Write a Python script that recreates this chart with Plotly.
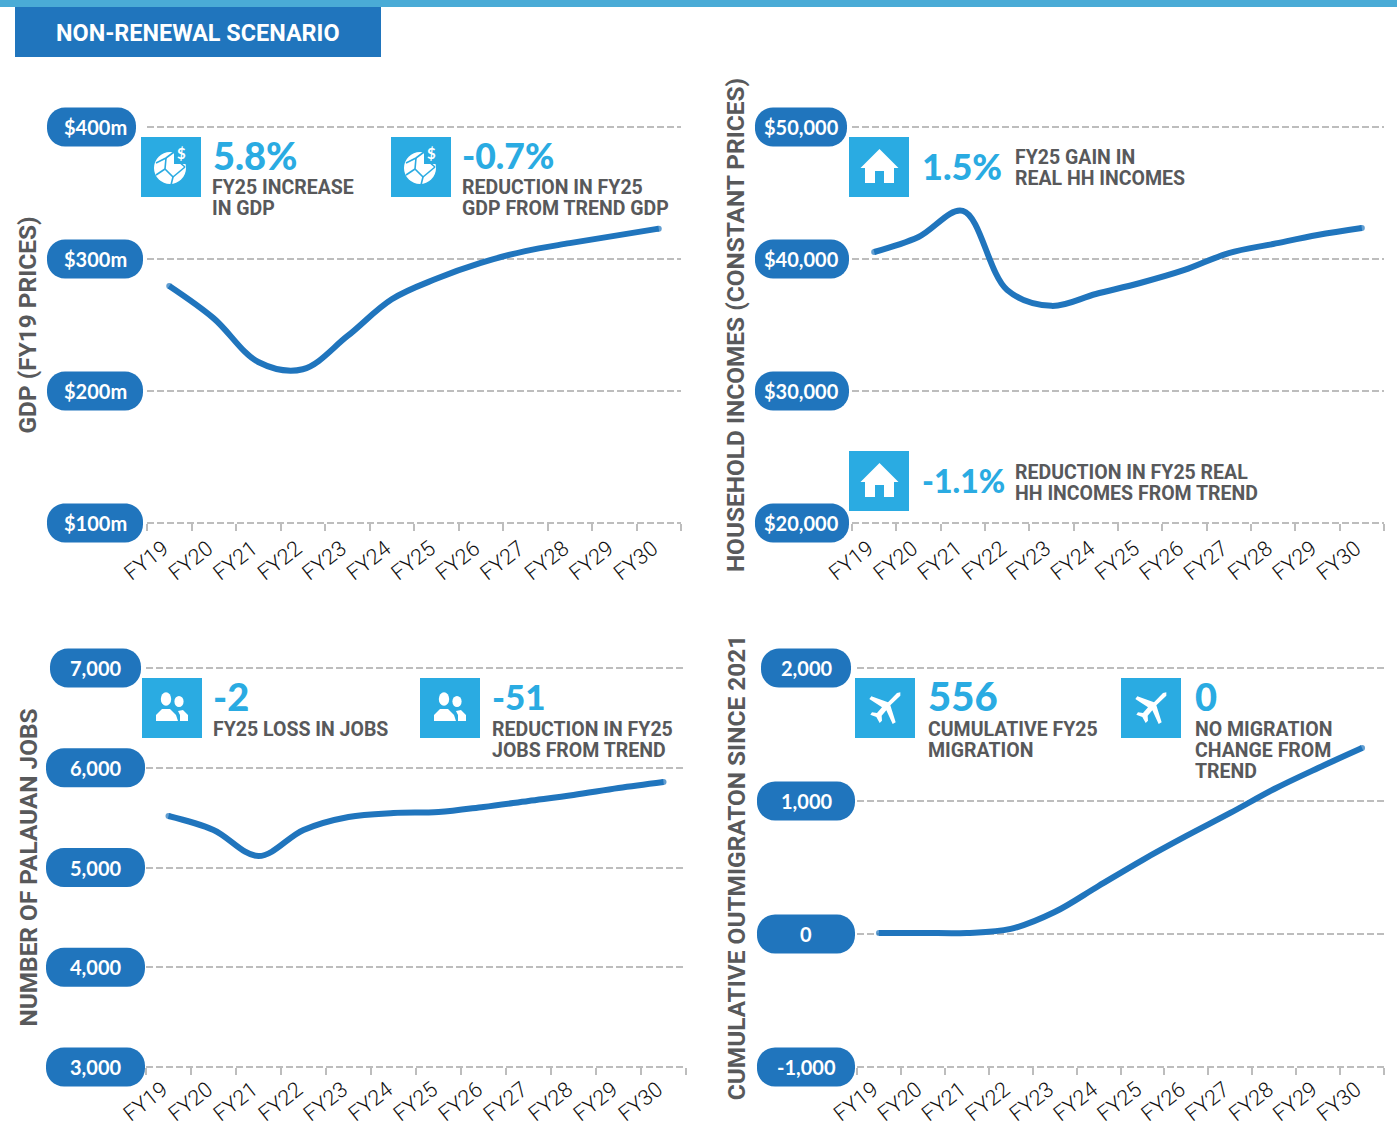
import plotly.graph_objects as go

W, H = 1397, 1125
BLUE = "#2075bd"
SKY = "#2aabe2"
GRAY = "#58595b"
GRID = "#bdbdbd"
COND = "Roboto"
ROUND = "Lato"

years = ["FY19", "FY20", "FY21", "FY22", "FY23", "FY24", "FY25", "FY26", "FY27", "FY28", "FY29", "FY30"]
gdp = [279.5, 255, 222, 216.5, 241.5, 269.5, 285, 297, 306, 312, 317.5, 323]
incomes = [40530, 41670, 43640, 37650, 36450, 37350, 38180, 39170, 40450, 41140, 41820, 42350]
jobs = [5516, 5376, 5115, 5376, 5506, 5546, 5556, 5607, 5667, 5727, 5797, 5857]
migration = [8, 8, 8, 38, 165, 361, 556, 737, 910, 1090, 1248, 1398]

gdp_ticks = [100, 200, 300, 400]
gdp_labels = ["$100m", "$200m", "$300m", "$400m"]
income_ticks = [20000, 30000, 40000, 50000]
income_labels = ["$20,000", "$30,000", "$40,000", "$50,000"]
jobs_ticks = [3000, 4000, 5000, 6000, 7000]
jobs_labels = ["3,000", "4,000", "5,000", "6,000", "7,000"]
migration_ticks = [-1000, 0, 1000, 2000]
migration_labels = ["-1,000", "0", "1,000", "2,000"]

panels = [
    dict(vals=gdp, ticks=gdp_ticks, labels=gdp_labels, title="GDP (FY19 PRICES)", lab_gap=8,
         x0=147, x1=681, y0=127, y1=523, standoff=102, pill=(47, 143), center=95, short={400: (47, 136)}),
    dict(vals=incomes, ticks=income_ticks, labels=income_labels, title="HOUSEHOLD INCOMES (CONSTANT PRICES)", lab_gap=8,
         x0=852, x1=1384, y0=127, y1=523, standoff=99, pill=(755, 849), center=801, short={50000: (755, 847)}),
    dict(vals=jobs, ticks=jobs_ticks, labels=jobs_labels, title="NUMBER OF PALAUAN JOBS", lab_gap=5,
         x0=146, x1=686, y0=668, y1=1067, standoff=100, pill=(46, 145), center=95, short={7000: (50, 141)}),
    dict(vals=migration, ticks=migration_ticks, labels=migration_labels, title="CUMULATIVE OUTMIGRATON SINCE 2021", lab_gap=5,
         x0=857, x1=1384, y0=668, y1=1067, standoff=103, pill=(757, 855), center=806, short={2000: (761, 851)}),
]


def px(x):
    return x / W


def py(y):
    return 1 - y / H


def poly(points):
    return "M " + " L ".join(f"{px(x):.5f} {py(y):.5f}" for x, y in points) + " Z"


def rect_shape(x0, y0, x1, y1, color):
    return dict(type="rect", xref="paper", yref="paper", x0=px(x0), x1=px(x1), y0=py(y0), y1=py(y1),
                fillcolor=color, line=dict(width=0), layer="above")


def path_shape(d, color, line=0, line_color=None):
    return dict(type="path", xref="paper", yref="paper", path=d, fillcolor=color,
                line=dict(width=line, color=line_color or color), layer="above")


def ellipse(cx, cy, rx, ry, color="white"):
    return dict(type="circle", xref="paper", yref="paper", x0=px(cx - rx), x1=px(cx + rx),
                y0=py(cy - ry), y1=py(cy + ry), fillcolor=color, line=dict(width=0), layer="above")


def pill_shape(x0, x1, yc, hh=19.5, r=18):
    t, b = yc - hh, yc + hh
    k = r * 0.45
    c = lambda a, b_: f"{px(a):.5f} {py(b_):.5f}"
    d = (f"M {c(x0 + r, t)} L {c(x1 - r, t)} C {c(x1 - k, t)} {c(x1, t + k)} {c(x1, t + r)} "
         f"L {c(x1, b - r)} C {c(x1, b - k)} {c(x1 - k, b)} {c(x1 - r, b)} "
         f"L {c(x0 + r, b)} C {c(x0 + k, b)} {c(x0, b - k)} {c(x0, b - r)} "
         f"L {c(x0, t + r)} C {c(x0, t + k)} {c(x0 + k, t)} {c(x0 + r, t)} Z")
    return path_shape(d, BLUE)


def icon_box(x, y, kind):
    out = [rect_shape(x, y, x + 60, y + 60, SKY)]
    P = lambda pts: [(x + a, y + b) for a, b in pts]
    if kind == "house":
        out.append(path_shape(poly(P([(30.5, 12), (49.5, 31), (45, 31), (45, 46), (35, 46), (35, 34),
                                      (26, 34), (26, 46), (16, 46), (16, 31), (11.5, 31)])), "white"))
    elif kind == "plane":
        pts = [(180, 98), (170, 100), (143, 128), (93, 110), (87, 118), (125, 143), (110, 160), (95, 158),
               (90, 165), (108, 172), (118, 190), (125, 183), (124, 168), (138, 152), (157, 193), (166, 188),
               (150, 137), (180, 108)]
        out.append(path_shape(poly(P([((a - 44) / 3, (b - 55) / 3) for a, b in pts])), "white"))
    elif kind == "people":
        out.append(ellipse(x + 37, y + 23.5, 4.6, 5.5))
        out.append(path_shape(poly(P([(36, 33), (41, 32), (46, 37), (46, 43), (38, 43), (38, 37)])), "white"))
        out.append(ellipse(x + 24, y + 21, 5.2, 6.8))
        out.append(path_shape(poly(P([(14, 43), (14, 37), (20, 31), (28, 31), (34, 37), (36, 43)])), "white"))
    elif kind == "globe":
        out.append(ellipse(x + 29, y + 31, 16, 16))
        for seg in ([(15, 26), (25, 21), (33, 15)], [(25, 21), (24, 32), (32, 40), (30, 48)],
                    [(24, 32), (15, 38)], [(32, 40), (44, 30)], [(33, 15), (37, 24), (44, 30)]):
            d = "M " + " L ".join(f"{px(a):.5f} {py(b):.5f}" for a, b in P(seg))
            out.append(dict(type="path", xref="paper", yref="paper", path=d,
                            line=dict(width=1.6, color=SKY), layer="above"))
        out.append(rect_shape(x + 33, y + 11, x + 47, y + 27, SKY))
    return out


shapes = [rect_shape(0, 0, W, 7, "#4aabd6"), rect_shape(15, 7, 381, 57, BLUE)]
annotations = []


def text(x, y, s, size, color=GRAY, family=COND, weight=700, xanchor="left"):
    annotations.append(dict(xref="paper", yref="paper", x=px(x), y=py(y), text=s, showarrow=False,
                            xanchor=xanchor, yanchor="middle", align="left",
                            font=dict(size=size, color=color, family=family, weight=weight)))


fig = go.Figure()
layout = {}
PAD = 2.0
for i, p in enumerate(panels):
    n = "" if i == 0 else str(i + 1)
    lo, hi = min(p["ticks"]), max(p["ticks"])
    h = p["y1"] - p["y0"]
    per_px = (hi - lo) / h
    sizes = [6] + [0] * (len(years) - 2) + [6]
    fig.add_trace(go.Scatter(x=years, y=p["vals"], xaxis=f"x{n}", yaxis=f"y{n}", mode="lines+markers",
                             line=dict(color=BLUE, width=6, shape="spline", smoothing=1.0),
                             marker=dict(size=sizes, color=BLUE, line=dict(width=0)),
                             showlegend=False, cliponaxis=False))
    layout[f"xaxis{n}"] = dict(domain=[px(p["x0"]), px(p["x1"])], anchor="free", position=py(p["y1"]),
                               type="category", automargin=False,
                               categoryorder="array", categoryarray=years, range=[-0.5, 11.5],
                               tickson="boundaries", ticks="outside", ticklen=7, tickwidth=2, tickcolor=GRID,
                               tickangle=-38, showgrid=False, zeroline=False, showline=False,
                               ticklabelstandoff=p["lab_gap"], ticklabelshift=-6,
                               tickfont=dict(family=COND, size=21.5, color="#111111", weight=300))
    layout[f"yaxis{n}"] = dict(domain=[py(p["y1"] + PAD), py(p["y0"] - PAD)], anchor=f"x{n}",
                               range=[lo - PAD * per_px, hi + PAD * per_px], automargin=False,
                               tickvals=p["ticks"], showticklabels=False, ticks="", zeroline=False,
                               showgrid=True, gridcolor=GRID, gridwidth=2, griddash="7px,3px",
                               title=dict(text=p["title"], standoff=p["standoff"],
                                          font=dict(family=COND, size=24.4, color=GRAY, weight=700)))
    for v, lab in zip(p["ticks"], p["labels"]):
        yc = p["y0"] + (hi - v) / (hi - lo) * h
        x0, x1 = p["short"].get(v, p["pill"])
        shapes.append(pill_shape(x0, x1, yc))
        annotations.append(dict(xref="paper", yref=f"y{n}", x=px(p["center"]), y=v, text=lab, showarrow=False,
                                xanchor="center", yanchor="middle",
                                font=dict(size=20, color="white", family=ROUND, weight=700)))

for x, y, kind in [(141, 137, "globe"), (391, 137, "globe"), (849, 137, "house"), (849, 451, "house"),
                   (142, 678, "people"), (420, 678, "people"), (855, 678, "plane"), (1121, 678, "plane")]:
    shapes.extend(icon_box(x, y, kind))

text(54, 33, "NON-RENEWAL SCENARIO", 23.4, "white")

for x, y, s, size in [(211, 155, "5.8%", 38), (460, 155, "-0.7%", 35.5), (920, 166, "1.5%", 36), (920, 480, "-1.1%", 32),
                      (211, 696, "-2", 38), (490, 696, "-51", 35), (926, 696, "556", 40), (1193, 696, "0", 38)]:
    text(x, y, s, size, SKY, ROUND, weight=900)

for x, y, s in [(210, 187, "FY25 INCREASE"), (210, 208, "IN GDP"),
                (460, 187, "REDUCTION IN FY25"), (460, 208, "GDP FROM TREND GDP"),
                (1013, 157, "FY25 GAIN IN"), (1013, 178, "REAL HH INCOMES"),
                (1013, 472, "REDUCTION IN FY25 REAL"), (1013, 493, "HH INCOMES FROM TREND"),
                (211, 729, "FY25 LOSS IN JOBS"),
                (490, 729, "REDUCTION IN FY25"), (490, 750, "JOBS FROM TREND"),
                (926, 729, "CUMULATIVE FY25"), (926, 750, "MIGRATION"),
                (1193, 729, "NO MIGRATION"), (1193, 750, "CHANGE FROM"), (1193, 771, "TREND")]:
    text(x, y, s, 19.5)

for x, y in [(181, 153), (431, 153)]:
    text(x, y, "$", 15, "white", ROUND, xanchor="center")

fig.update_layout(width=W, height=H, margin=dict(l=0, r=0, t=0, b=0), paper_bgcolor="white",
                  plot_bgcolor="rgba(0,0,0,0)", showlegend=False, shapes=shapes, annotations=annotations, **layout)
fig.write_html("out.html", config={"displayModeBar": False},
               post_script="document.body.style.margin='0';document.body.style.overflow='hidden';")
